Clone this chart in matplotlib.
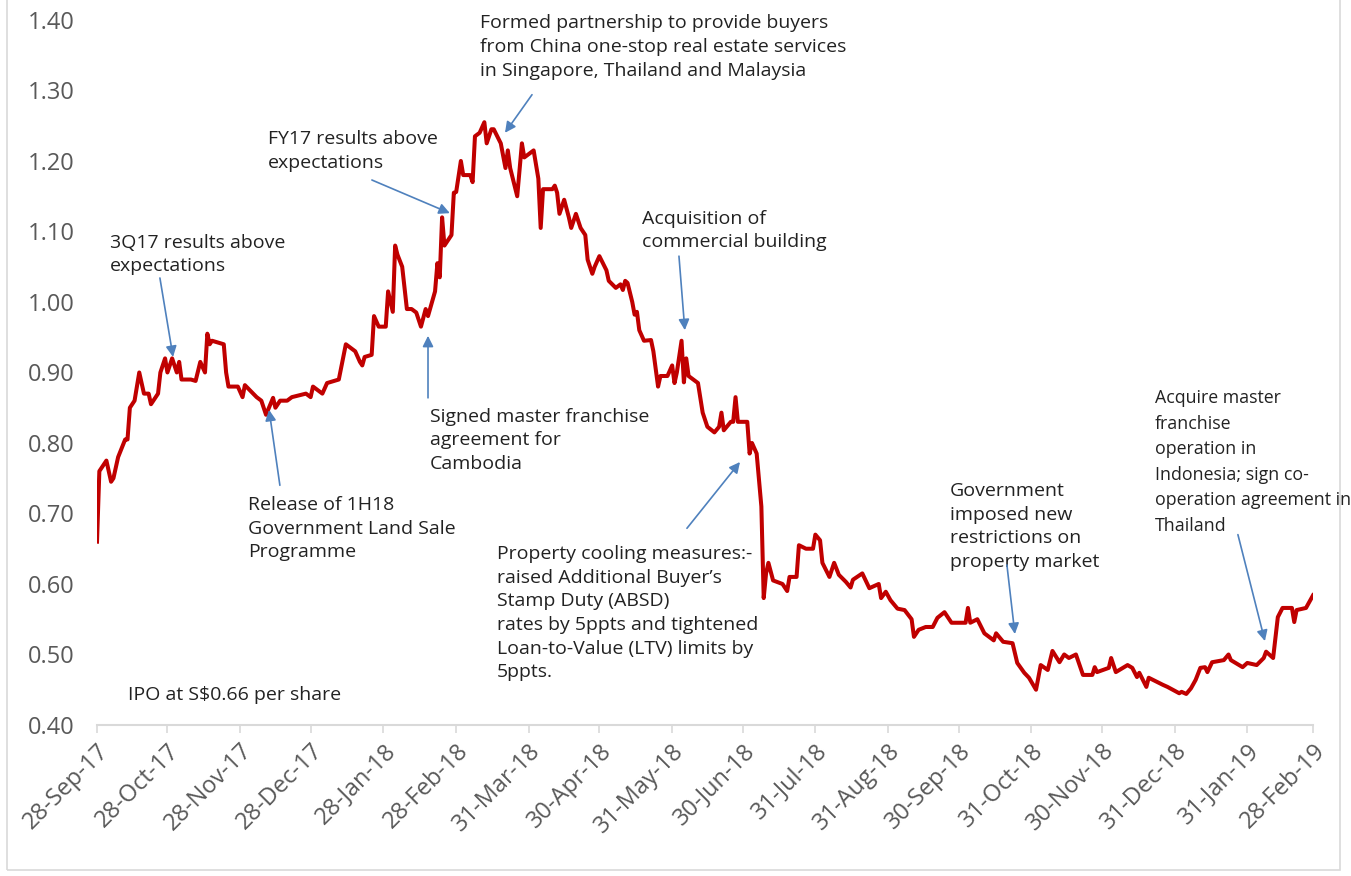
import matplotlib
matplotlib.use("Agg")
import matplotlib.pyplot as plt
import matplotlib.dates as mdates
import pandas as pd
from matplotlib.patches import Rectangle

# share price (S$), days counted from the IPO on 28-Sep-17
start = pd.Timestamp("2017-09-28")
days = [0, 1, 3, 4, 6, 7, 9, 12, 13, 14, 16, 18, 20, 22, 23, 26, 27, 29, 30, 32,
        34, 35, 36, 40, 42, 44, 46, 47, 48, 49, 54, 55, 56, 60, 62, 63, 68, 70, 72, 75,
        76, 78, 81, 83, 89, 91, 92, 96, 98, 103, 106, 110, 112, 113, 114, 117, 118, 120, 123, 124,
        126, 127, 128, 130, 132, 134, 136, 138, 140, 141, 144, 145, 146, 147, 148, 151, 152, 153, 155, 156,
        159, 160, 161, 163, 165, 166, 168, 169, 172, 174, 175, 176, 179, 181, 182, 186, 188, 189, 190, 194,
        195, 196, 197, 199, 201, 202, 204, 206, 208, 209, 211, 212, 214, 217, 218, 221, 223, 224, 225, 226,
        228, 229, 230, 231, 233, 236, 237, 239, 240, 243, 245, 246, 247, 249, 250, 251, 252, 256, 258, 260,
        263, 265, 266, 267, 270, 271, 272, 273, 277, 278, 279, 281, 283, 284, 285, 286, 288, 292, 294, 295,
        298, 299, 302, 305, 306, 308, 309, 312, 314, 316, 319, 321, 322, 326, 329, 333, 334, 336, 338, 341,
        344, 347, 348, 350, 353, 356, 358, 361, 364, 370, 371, 372, 375, 378, 382, 383, 386, 390, 392, 395,
        397, 400, 402, 405, 407, 410, 412, 414, 417, 420, 424, 425, 426, 431, 432, 434, 439, 441, 443, 444,
        447, 448, 454, 456, 461, 462, 464, 466, 468, 470, 472, 473, 475, 480, 482, 483, 488, 490, 494, 497,
        498, 501, 503, 505, 509, 510, 511, 515, 518]
price = [0.66, 0.76, 0.77, 0.775, 0.745, 0.75, 0.78, 0.805, 0.805, 0.85, 0.86, 0.90, 0.87, 0.87, 0.855, 0.87, 0.90, 0.92, 0.90, 0.92,
         0.90, 0.915, 0.89, 0.89, 0.888, 0.915, 0.90, 0.955, 0.94, 0.945, 0.94, 0.90, 0.88, 0.88, 0.865, 0.882, 0.865, 0.86, 0.84, 0.864,
         0.85, 0.86, 0.86, 0.865, 0.87, 0.865, 0.88, 0.87, 0.885, 0.89, 0.94, 0.93, 0.915, 0.91, 0.922, 0.925, 0.98, 0.965, 0.965, 1.015,
         0.986, 1.08, 1.067, 1.05, 0.99, 0.99, 0.985, 0.965, 0.99, 0.98, 1.015, 1.055, 1.035, 1.12, 1.08, 1.095, 1.155, 1.156, 1.20, 1.18,
         1.18, 1.17, 1.235, 1.24, 1.255, 1.225, 1.245, 1.245, 1.225, 1.19, 1.215, 1.19, 1.15, 1.225, 1.205, 1.215, 1.175, 1.105, 1.16, 1.16,
         1.165, 1.155, 1.125, 1.145, 1.12, 1.105, 1.125, 1.105, 1.095, 1.06, 1.04, 1.05, 1.065, 1.045, 1.03, 1.02, 1.025, 1.017, 1.03, 1.027,
         1.00, 0.982, 0.986, 0.96, 0.945, 0.946, 0.93, 0.88, 0.895, 0.895, 0.91, 0.885, 0.90, 0.945, 0.886, 0.92, 0.895, 0.885, 0.843, 0.823,
         0.815, 0.823, 0.843, 0.818, 0.83, 0.83, 0.865, 0.83, 0.83, 0.785, 0.80, 0.785, 0.71, 0.58, 0.615, 0.63, 0.605, 0.60, 0.59, 0.61,
         0.61, 0.655, 0.65, 0.65, 0.67, 0.662, 0.63, 0.61, 0.63, 0.613, 0.603, 0.595, 0.606, 0.615, 0.594, 0.60, 0.58, 0.589, 0.577, 0.565,
         0.563, 0.55, 0.525, 0.535, 0.539, 0.539, 0.552, 0.56, 0.545, 0.545, 0.566, 0.545, 0.55, 0.53, 0.52, 0.53, 0.518, 0.516, 0.488, 0.474,
         0.467, 0.45, 0.485, 0.478, 0.505, 0.489, 0.50, 0.495, 0.50, 0.471, 0.471, 0.482, 0.475, 0.481, 0.495, 0.475, 0.485, 0.481, 0.468, 0.474,
         0.454, 0.467, 0.457, 0.454, 0.445, 0.447, 0.444, 0.452, 0.464, 0.481, 0.482, 0.475, 0.489, 0.492, 0.50, 0.492, 0.482, 0.488, 0.485, 0.495,
         0.504, 0.495, 0.553, 0.566, 0.566, 0.546, 0.563, 0.566, 0.584]

tick_dates = ["2017-09-28", "2017-10-28", "2017-11-28", "2017-12-28", "2018-01-28", "2018-02-28",
              "2018-03-31", "2018-04-30", "2018-05-31", "2018-06-30", "2018-07-31", "2018-08-31",
              "2018-09-30", "2018-10-31", "2018-11-30", "2018-12-31", "2019-01-31", "2019-02-28"]
y_ticks = [0.40, 0.50, 0.60, 0.70, 0.80, 0.90, 1.00, 1.10, 1.20, 1.30, 1.40]

# (text, text day, text value, arrow tail day, tail value, arrow tip day, tip value, font size)
notes = [
    ("3Q17 results above\nexpectations", 5.5, 1.097, 26.8, 1.034, 32.4, 0.922, 14),
    ("Release of 1H18\nGovernment Land Sale\nProgramme", 64.3, 0.7245, 77.9, 0.740, 73.3, 0.847, 14),
    ("FY17 results above\nexpectations", 72.8, 1.244, 117.1, 1.173, 150.3, 1.126, 14),
    ("Formed partnership to provide buyers\nfrom China one-stop real estate services\nin Singapore, Thailand and Malaysia",
     163.1, 1.408, 185.3, 1.294, 173.8, 1.24, 14),
    ("Signed master franchise\nagreement for\nCambodia", 141.8, 0.850, 141.0, 0.864, 141.0, 0.952, 14),
    ("Acquisition of\ncommercial building", 232.1, 1.131, 247.9, 1.065, 250.4, 0.96, 14),
    ("Property cooling measures:-\nraised Additional Buyer\u2019s\nStamp Duty (ABSD)\nrates by 5ppts and tightened\n"
     "Loan-to-Value (LTV) limits by\n5ppts.", 170.4, 0.655, 251.3, 0.679, 273.9, 0.773, 14),
    ("Government\nimposed new\nrestrictions on\nproperty market", 363.3, 0.7445, 387.6, 0.627, 391.0, 0.529, 14),
    ("Acquire master\nfranchise\noperation in\nIndonesia; sign co-\noperation agreement in\nThailand",
     450.6, 0.876, 486.0, 0.670, 497.5, 0.519, 12.8),
]


def when(d):
    return start + pd.Timedelta(days=d)


plt.rcParams['font.family'] = ['Open Sans', 'DejaVu Sans']

fig = plt.figure(figsize=(13.51, 8.76), dpi=100)
ax = fig.add_axes([0.0718, 0.1724, 0.9001, 0.8048])

dates = [when(d) for d in days]
ax.plot(dates, price, color='#C00000', lw=2.9, solid_joinstyle='round')

ax.set_xlim(start, pd.Timestamp("2019-02-28"))
ax.set_ylim(0.40, 1.40)
ax.set_yticks(y_ticks)
ax.set_yticklabels([f"{v:.2f}" for v in y_ticks])
ax.set_xticks(pd.to_datetime(tick_dates))
ax.xaxis.set_major_formatter(mdates.DateFormatter('%d-%b-%y'))
for s in ['top', 'right', 'left']:
    ax.spines[s].set_visible(False)
ax.spines['bottom'].set_color('#D9D9D9')
ax.spines['bottom'].set_linewidth(1.5)
ax.tick_params(axis='y', length=0, pad=16, labelsize=17, labelcolor='#595959')
ax.tick_params(axis='x', length=6, width=1.2, color='#D9D9D9', pad=4, labelsize=17, labelcolor='#595959')
plt.setp(ax.get_xticklabels(), rotation=45, ha='right', rotation_mode='anchor')

for txt, tx, ty, ax0, ay0, ax1, ay1, fs in notes:
    ax.text(when(tx), ty, txt, fontsize=fs, color='#222222', ha='left', va='top',
            linespacing=1.4 * 14 / fs, clip_on=False)
    ax.annotate('', xy=(when(ax1), ay1), xytext=(when(ax0), ay0),
                arrowprops=dict(arrowstyle='-|>', color='#4F81BD', lw=1.2, mutation_scale=16,
                                shrinkA=0, shrinkB=0), annotation_clip=False)

ax.text(when(13.2), 0.443, "IPO at S$0.66 per share", fontsize=14, color='#222222',
        ha='left', va='center')

# light frame round the chart area
fig.patches.append(Rectangle((7 / 1351, 6 / 876), 1333 / 1351, 880 / 876, transform=fig.transFigure,
                             fill=False, edgecolor='#D9D9D9', lw=1.2))

fig.savefig('out.png', dpi=100)
